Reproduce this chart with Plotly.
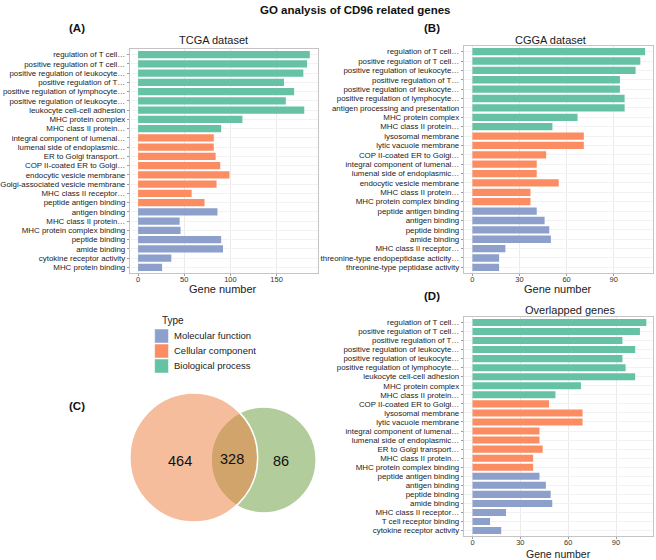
import plotly.graph_objects as go

W, H = 656, 560

# ---------------- data ----------------
type_names = ["Molecular function", "Cellular component", "Biological process"]
type_colors = ["#8DA0CB", "#FC8D62", "#66C2A5"]

tcga_terms = [
    "regulation of T cell…", "positive regulation of T cell…", "positive regulation of leukocyte…",
    "positive regulation of T…", "positive regulation of lymphocyte…", "positive regulation of leukocyte…",
    "leukocyte cell-cell adhesion", "MHC protein complex", "MHC class II protein…",
    "integral component of lumenal…", "lumenal side of endoplasmic…", "ER to Golgi transport…",
    "COP II-coated ER to Golgi…", "endocytic vesicle membrane", "Golgi-associated vesicle membrane",
    "MHC class II receptor…", "peptide antigen binding", "antigen binding",
    "MHC class II protein…", "MHC protein complex binding", "peptide binding",
    "amide binding", "cytokine receptor activity", "MHC protein binding",
]
tcga_counts = [186, 183, 179, 158, 169, 160, 180, 113, 90,
               82, 82, 84, 89, 99, 85, 58, 72,
               86, 45, 46, 90, 92, 36, 26]
tcga_types = ["Biological process"] * 9 + ["Cellular component"] * 8 + ["Molecular function"] * 7

cgga_terms = [
    "regulation of T cell…", "positive regulation of T cell…", "positive regulation of leukocyte…",
    "positive regulation of T…", "positive regulation of leukocyte…", "positive regulation of lymphocyte…",
    "antigen processing and presentation", "MHC protein complex", "MHC class II protein…",
    "lysosomal membrane", "lytic vacuole membrane", "COP II-coated ER to Golgi…",
    "integral component of lumenal…", "lumenal side of endoplasmic…", "endocytic vesicle membrane",
    "MHC class II protein…", "MHC protein complex binding", "peptide antigen binding",
    "antigen binding", "peptide binding", "amide binding",
    "MHC class II receptor…", "threonine-type endopeptidase acticity…", "threonine-type peptidase activity",
]
cgga_counts = [110, 107, 104, 94, 94, 97, 97, 67, 51,
               71, 71, 47, 41, 41, 55, 37, 37,
               41, 46, 49, 50, 21, 17, 17]
cgga_types = ["Biological process"] * 9 + ["Cellular component"] * 8 + ["Molecular function"] * 7

overlap_terms = [
    "regulation of T cell…", "positive regulation of T cell…", "positive regulation of T…",
    "positive regulation of leukocyte…", "positive regulation of leukocyte…", "positive regulation of lymphocyte…",
    "leukocyte cell-cell adhesion", "MHC protein complex", "MHC class II protein…",
    "COP II-coated ER to Golgi…", "lysosomal membrane", "lytic vacuole membrane",
    "integral component of lumenal…", "lumenal side of endoplasmic…", "ER to Golgi transport…",
    "MHC class II protein…", "MHC protein complex binding", "peptide antigen binding",
    "antigen binding", "peptide binding", "amide binding",
    "MHC class II receptor…", "T cell receptor binding", "cytokine receptor activity",
]
overlap_counts = [109, 105, 94, 102, 94, 96, 102, 68, 52,
                  48, 69, 69, 42, 42, 44, 38, 38,
                  42, 46, 49, 50, 21, 11, 18]
overlap_types = ["Biological process"] * 9 + ["Cellular component"] * 8 + ["Molecular function"] * 7

venn_regions = ["TCGA only", "Both", "CGGA only"]
venn_counts = [464, 328, 86]

# ---------------- helpers ----------------
def px(x):
    return x / W


def py(y):
    return 1 - y / H


FONT = "Liberation Sans, Arial, sans-serif"
color_of = dict(zip(type_names, type_colors))

fig = go.Figure()

panels = [
    # terms, counts, types, xaxis id, yaxis id, (left, right, top, bottom) px, xrange, ticks, title pos, title size
    (tcga_terms, tcga_counts, tcga_types, "x", "y", (125, 315, 49, 273), [-8.9, 195], [0, 50, 100, 150], (219, 289), 11),
    (cgga_terms, cgga_counts, cgga_types, "x2", "y2", (462, 653, 46, 273), [-5.5, 115.1], [0, 30, 60, 90], (557, 289), 11),
    (overlap_terms, overlap_counts, overlap_types, "x3", "y3", (462, 653, 317, 536), [-5.5, 113.2], [0, 30, 60, 90], (558, 554), 10.5),
]

ann = []
for i, (terms, counts, types, xa, ya, box, xr, tv, tpos, tsize) in enumerate(panels):
    idx = list(range(len(terms)))
    fig.add_trace(go.Bar(
        x=counts, y=idx, orientation="h", xaxis=xa, yaxis=ya,
        marker=dict(color=[color_of[t] for t in types], line=dict(width=0)),
        width=0.78, showlegend=False,
        customdata=terms, hovertemplate="%{customdata}: %{x}<extra></extra>",
    ))
    l, r, t, b = box
    suffix = "" if i == 0 else str(i + 1)
    common_axis = dict(
        showline=True, mirror=True, linecolor="#C4C4C4", linewidth=1,
        ticks="outside", ticklen=2, tickcolor="#9A9A9A", zeroline=False,
    )
    fig.update_layout(**{
        "xaxis" + suffix: dict(
            domain=[px(l), px(r)], anchor=ya, range=xr, tickvals=tv,
            showgrid=True, gridcolor="#EBEBEB", gridwidth=1,
            tickfont=dict(size=7.5, color="#333333", family=FONT),
            ticklabelstandoff=-3,
            **common_axis,
        ),
        "yaxis" + suffix: dict(
            domain=[py(b), py(t)], anchor=xa, range=[len(terms) - 0.4, -0.6],
            tickvals=idx, ticktext=terms, showgrid=True, gridcolor="#F2F2F2",
            tickfont=dict(size=7.9, color="#222222", family=FONT),
            **common_axis,
        ),
    })
    ann.append(dict(text="Gene number", x=px(tpos[0]), y=py(tpos[1]),
                    font=dict(size=tsize, color="#1a1a1a", family=FONT)))

# ---------------- annotations ----------------
ann.append(dict(text="<b>GO analysis of CD96 related genes</b>", x=px(352), y=py(10),
                font=dict(size=11.5, color="#111", family=FONT)))
for lab, (xx, yy) in zip(["(A)", "(B)", "(C)", "(D)"], [(72, 28), (430, 28), (72, 406), (430, 296)]):
    ann.append(dict(text="<b>" + lab + "</b>", x=px(xx), y=py(yy),
                    font=dict(size=11.5, color="#111", family=FONT)))
for lab, (xx, yy) in zip(["TCGA dataset", "CGGA dataset", "Overlapped genes"],
                         [(209, 40), (550, 40), (569, 310)]):
    ann.append(dict(text=lab, x=px(xx), y=py(yy), font=dict(size=11, color="#1a1a1a", family=FONT)))

shapes = []

# Legend ("Type")
ann.append(dict(text="Type", x=px(155), y=py(320), xanchor="left",
                font=dict(size=10, color="#222", family=FONT)))
for k, (name, col) in enumerate(zip(type_names, type_colors)):
    top = 329 + k * 15
    shapes.append(dict(type="rect", xref="paper", yref="paper",
                       x0=px(150), x1=px(164), y0=py(top + 14), y1=py(top),
                       fillcolor=col, line=dict(color="white", width=0.5)))
    ann.append(dict(text=name, x=px(168), y=py(top + 6.5), xanchor="left",
                    font=dict(size=9.5, color="#222", family=FONT)))

# Venn diagram
orange_c, orange_r = (189.5, 457.5), 64.5
green_c, green_r = (260, 460), 53
shapes += [
    dict(type="circle", xref="paper", yref="paper",
         x0=px(green_c[0] - green_r), x1=px(green_c[0] + green_r),
         y0=py(green_c[1] + green_r), y1=py(green_c[1] - green_r),
         fillcolor="rgb(178,204,155)", line=dict(color="white", width=1.5), layer="above"),
    dict(type="circle", xref="paper", yref="paper",
         x0=px(orange_c[0] - orange_r), x1=px(orange_c[0] + orange_r),
         y0=py(orange_c[1] + orange_r), y1=py(orange_c[1] - orange_r),
         fillcolor="rgba(237,123,57,0.5)", line=dict(color="white", width=1.5), layer="above"),
]
for val, (xx, yy) in zip(venn_counts, [(176, 461), (228, 459), (278, 461)]):
    ann.append(dict(text=str(val), x=px(xx), y=py(yy), font=dict(size=14.5, color="#111", family=FONT)))

for a in ann:
    a.setdefault("xanchor", "center")
    a.update(xref="paper", yref="paper", showarrow=False, yanchor="middle")

fig.update_layout(
    width=W, height=H, margin=dict(l=0, r=0, t=0, b=0),
    paper_bgcolor="white", plot_bgcolor="white",
    font=dict(family=FONT, color="#222"),
    annotations=ann, shapes=shapes,
    showlegend=False,
)

fig.write_html("out.html", config={"displayModeBar": False},
               post_script="document.body.style.margin='0';")
